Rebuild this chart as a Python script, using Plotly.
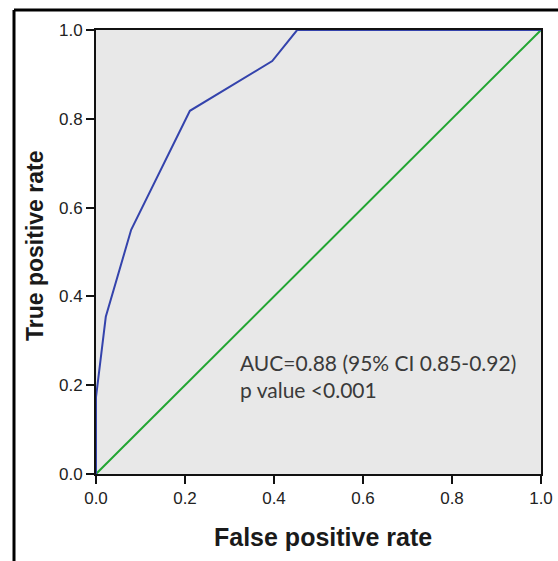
import plotly.graph_objects as go

# ROC curve data
fpr = [0.0, 0.0, 0.022, 0.079, 0.211, 0.396, 0.452, 1.0]
tpr = [0.0, 0.173, 0.354, 0.55, 0.818, 0.930, 1.0, 1.0]
ref_x = [0.0, 1.0]
ref_y = [0.0, 1.0]
tick_vals = [0.0, 0.2, 0.4, 0.6, 0.8, 1.0]
tick_text = ["0.0", "0.2", "0.4", "0.6", "0.8", "1.0"]
auc_text = "AUC=0.88 (95% CI 0.85-0.92)<br>p value <0.001"
x_title = "False positive rate"
y_title = "True positive rate"

fig = go.Figure()
fig.add_trace(go.Scatter(x=ref_x, y=ref_y, mode="lines",
                         line=dict(color="#22a532", width=2), hoverinfo="skip"))
fig.add_trace(go.Scatter(x=fpr, y=tpr, mode="lines",
                         line=dict(color="#3443ac", width=2), hoverinfo="skip"))

axis_common = dict(range=[0, 1], tickvals=tick_vals, ticktext=tick_text,
                   showgrid=False, zeroline=False, showline=True,
                   linecolor="#111111", linewidth=2, mirror=True,
                   ticks="outside", ticklen=8, tickwidth=2, tickcolor="#111111",
                   automargin=False,
                   tickfont=dict(family="Liberation Sans, Arial, sans-serif",
                                 size=17, color="#222222"))
fig.update_xaxes(**axis_common)
fig.update_yaxes(**axis_common)

W = 445.0
H = 444.0
fig.update_layout(
    width=558, height=561, autosize=False,
    margin=dict(l=96, r=17, t=30, b=87, autoexpand=False),
    plot_bgcolor="#e8e8e8", paper_bgcolor="white",
    showlegend=False,
    annotations=[
        dict(text=auc_text, x=(238 - 96) / W, y=(474 - 376) / H,
             xref="paper", yref="paper", xanchor="left", yanchor="middle",
             align="left", showarrow=False,
             font=dict(family="Lato, Open Sans, sans-serif", size=21, color="#3a3a3a")),
        dict(text="<b>" + x_title + "</b>", x=(323 - 96) / W, y=(474 - 537) / H,
             xref="paper", yref="paper", xanchor="center", yanchor="middle",
             showarrow=False,
             font=dict(family="Liberation Sans, Arial, sans-serif",
                       size=25, color="#1a1a1a")),
        dict(text="<b>" + y_title + "</b>", x=(35 - 96) / W, y=(474 - 246) / H,
             xref="paper", yref="paper", xanchor="center", yanchor="middle",
             textangle=-90, showarrow=False,
             font=dict(family="Liberation Sans, Arial, sans-serif",
                       size=23, color="#1a1a1a")),
    ],
    shapes=[
        dict(type="line", xref="paper", yref="paper",
             x0=(14 - 96) / W, x1=(14 - 96) / W,
             y0=(474 - 10) / H, y1=(474 - 570) / H,
             line=dict(color="black", width=3)),
        dict(type="line", xref="paper", yref="paper",
             x0=(14 - 96) / W, x1=(570 - 96) / W,
             y0=(474 - 10) / H, y1=(474 - 10) / H,
             line=dict(color="black", width=3)),
    ],
)

fig.write_html("out.html", config={"displayModeBar": False, "responsive": False},
               post_script="document.body.style.margin='0';document.body.style.overflow='hidden';")
